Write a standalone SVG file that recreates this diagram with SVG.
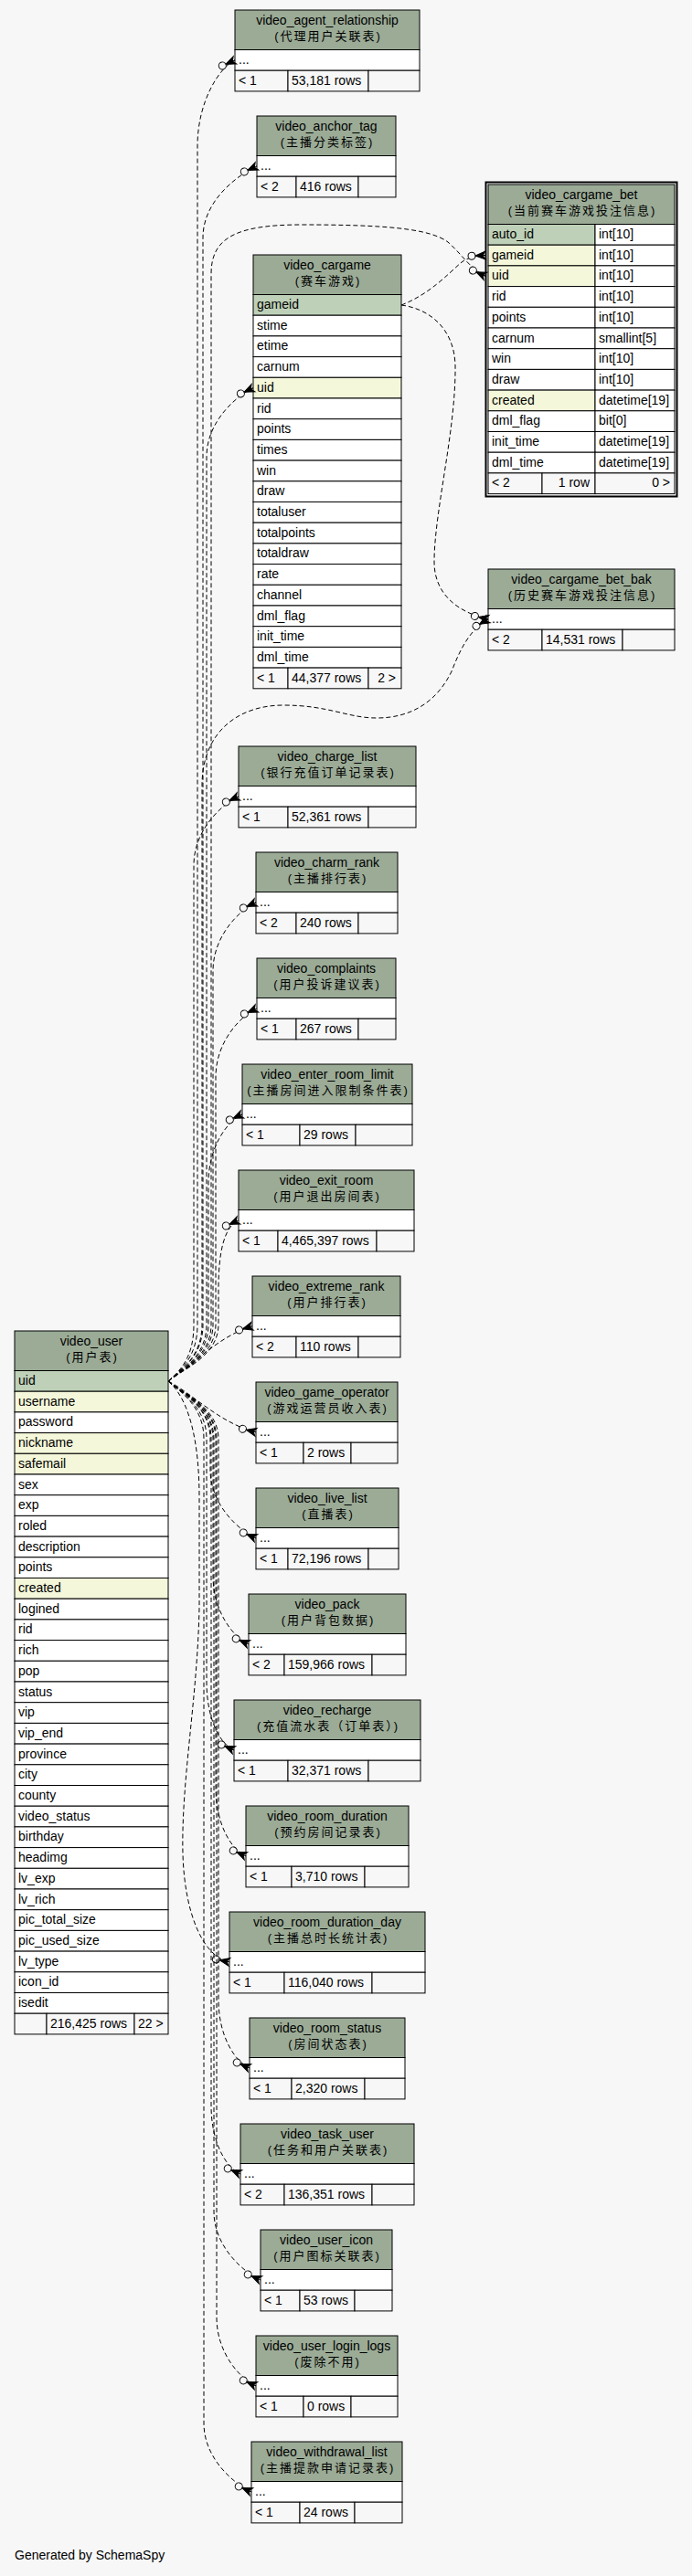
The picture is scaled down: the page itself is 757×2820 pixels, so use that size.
<svg xmlns="http://www.w3.org/2000/svg" width="757" height="2820" viewBox="0 0 757 2820">
<style>
.h{fill:#9bab96;stroke:#000;stroke-width:1}
.pk{fill:#bed1b8;stroke:#000;stroke-width:1}
.ix{fill:#f4f7da;stroke:#000;stroke-width:1}
.r{fill:#fff;stroke:#000;stroke-width:1}
.ft{fill:#f7f7f7;stroke:#000;stroke-width:1}
text{font-family:"Liberation Sans",Arial,sans-serif;font-size:14px;fill:#000}
.c{text-anchor:middle}
.e{text-anchor:end}
.cn{font-family:"Liberation Sans","Noto Sans CJK SC",sans-serif;font-size:13px;letter-spacing:2px;text-anchor:middle}
.edge{fill:none;stroke:#000;stroke-width:1;stroke-dasharray:5,3;marker-end:url(#cf)}
</style>
<defs>
<marker id="cf" markerUnits="userSpaceOnUse" orient="auto" markerWidth="26" markerHeight="14" viewBox="-21 -7 26 14" refX="0" refY="0" overflow="visible">
<path d="M-11,0 L0,-4.5 L-3,0 L0,4.5 Z M-11,0 L0,0" fill="#000" stroke="#000" stroke-width="1"/>
<circle cx="-15" cy="0" r="4" fill="#f7f7f7" stroke="#000" stroke-width="1"/>
</marker>
</defs>
<rect width="757" height="2820" fill="#f7f7f7"/>

<g id="video_agent_relationship" transform="translate(257,11)">
<rect class="h" width="202" height="43.5"/>
<text class="c" x="101" y="16">video_agent_relationship</text>
<text class="cn" x="102" y="33">(代理用户关联表)</text>
<rect class="r" y="43.5" width="202" height="22.7"/>
<text x="4" y="59">...</text>
<rect class="ft" y="66.2" width="58" height="22.7"/><rect class="ft" x="58" y="66.2" width="88" height="22.7"/><rect class="ft" x="146" y="66.2" width="56" height="22.7"/>
<text x="4" y="81.7">&lt; 1</text><text x="62" y="81.7">53,181 rows</text>
</g>

<g id="video_anchor_tag" transform="translate(281,127)">
<rect class="h" width="152" height="43.5"/>
<text class="c" x="76" y="16">video_anchor_tag</text>
<text class="cn" x="77" y="33">(主播分类标签)</text>
<rect class="r" y="43.5" width="152" height="22.7"/>
<text x="4" y="59">...</text>
<rect class="ft" y="66.2" width="43" height="22.7"/><rect class="ft" x="43" y="66.2" width="68" height="22.7"/><rect class="ft" x="111" y="66.2" width="41" height="22.7"/>
<text x="4" y="81.7">&lt; 2</text><text x="47" y="81.7">416 rows</text>
</g>

<g id="video_cargame" transform="translate(277,279)">
<rect class="h" width="162" height="43.5"/>
<text class="c" x="81" y="16">video_cargame</text>
<text class="cn" x="82" y="33">(赛车游戏)</text>
<rect class="pk" y="43.5" width="162" height="22.7"/><text x="4" y="59">gameid</text>
<rect class="r" y="66.2" width="162" height="22.7"/><text x="4" y="81.7">stime</text>
<rect class="r" y="88.9" width="162" height="22.7"/><text x="4" y="104.4">etime</text>
<rect class="r" y="111.6" width="162" height="22.7"/><text x="4" y="127.1">carnum</text>
<rect class="ix" y="134.3" width="162" height="22.7"/><text x="4" y="149.8">uid</text>
<rect class="r" y="157" width="162" height="22.7"/><text x="4" y="172.5">rid</text>
<rect class="r" y="179.7" width="162" height="22.7"/><text x="4" y="195.2">points</text>
<rect class="r" y="202.4" width="162" height="22.7"/><text x="4" y="217.9">times</text>
<rect class="r" y="225.1" width="162" height="22.7"/><text x="4" y="240.6">win</text>
<rect class="r" y="247.8" width="162" height="22.7"/><text x="4" y="263.3">draw</text>
<rect class="r" y="270.5" width="162" height="22.7"/><text x="4" y="286">totaluser</text>
<rect class="r" y="293.2" width="162" height="22.7"/><text x="4" y="308.7">totalpoints</text>
<rect class="r" y="315.9" width="162" height="22.7"/><text x="4" y="331.4">totaldraw</text>
<rect class="r" y="338.6" width="162" height="22.7"/><text x="4" y="354.1">rate</text>
<rect class="r" y="361.3" width="162" height="22.7"/><text x="4" y="376.8">channel</text>
<rect class="r" y="384" width="162" height="22.7"/><text x="4" y="399.5">dml_flag</text>
<rect class="r" y="406.7" width="162" height="22.7"/><text x="4" y="422.2">init_time</text>
<rect class="r" y="429.4" width="162" height="22.7"/><text x="4" y="444.9">dml_time</text>
<rect class="ft" y="452.1" width="38" height="22.7"/><rect class="ft" x="38" y="452.1" width="88" height="22.7"/><rect class="ft" x="126" y="452.1" width="36" height="22.7"/>
<text x="4" y="467.6">&lt; 1</text><text x="42" y="467.6">44,377 rows</text><text class="e" x="156" y="467.6">2 &gt;</text>
</g>

<g id="video_cargame_bet" transform="translate(534,202)">
<rect x="-2.5" y="-2.5" width="209" height="344" fill="none" stroke="#000" stroke-width="2"/>
<rect class="h" width="204" height="43.5"/>
<text class="c" x="102" y="16">video_cargame_bet</text>
<text class="cn" x="103" y="33">(当前赛车游戏投注信息)</text>
<rect class="pk" y="43.5" width="117" height="22.7"/><rect class="r" x="117" y="43.5" width="87" height="22.7"/><text x="4" y="59">auto_id</text><text x="121" y="59">int[10]</text>
<rect class="ix" y="66.2" width="117" height="22.7"/><rect class="r" x="117" y="66.2" width="87" height="22.7"/><text x="4" y="81.7">gameid</text><text x="121" y="81.7">int[10]</text>
<rect class="ix" y="88.9" width="117" height="22.7"/><rect class="r" x="117" y="88.9" width="87" height="22.7"/><text x="4" y="104.4">uid</text><text x="121" y="104.4">int[10]</text>
<rect class="r" y="111.6" width="117" height="22.7"/><rect class="r" x="117" y="111.6" width="87" height="22.7"/><text x="4" y="127.1">rid</text><text x="121" y="127.1">int[10]</text>
<rect class="r" y="134.3" width="117" height="22.7"/><rect class="r" x="117" y="134.3" width="87" height="22.7"/><text x="4" y="149.8">points</text><text x="121" y="149.8">int[10]</text>
<rect class="r" y="157" width="117" height="22.7"/><rect class="r" x="117" y="157" width="87" height="22.7"/><text x="4" y="172.5">carnum</text><text x="121" y="172.5">smallint[5]</text>
<rect class="r" y="179.7" width="117" height="22.7"/><rect class="r" x="117" y="179.7" width="87" height="22.7"/><text x="4" y="195.2">win</text><text x="121" y="195.2">int[10]</text>
<rect class="r" y="202.4" width="117" height="22.7"/><rect class="r" x="117" y="202.4" width="87" height="22.7"/><text x="4" y="217.9">draw</text><text x="121" y="217.9">int[10]</text>
<rect class="ix" y="225.1" width="117" height="22.7"/><rect class="r" x="117" y="225.1" width="87" height="22.7"/><text x="4" y="240.6">created</text><text x="121" y="240.6">datetime[19]</text>
<rect class="r" y="247.8" width="117" height="22.7"/><rect class="r" x="117" y="247.8" width="87" height="22.7"/><text x="4" y="263.3">dml_flag</text><text x="121" y="263.3">bit[0]</text>
<rect class="r" y="270.5" width="117" height="22.7"/><rect class="r" x="117" y="270.5" width="87" height="22.7"/><text x="4" y="286">init_time</text><text x="121" y="286">datetime[19]</text>
<rect class="r" y="293.2" width="117" height="22.7"/><rect class="r" x="117" y="293.2" width="87" height="22.7"/><text x="4" y="308.7">dml_time</text><text x="121" y="308.7">datetime[19]</text>
<rect class="ft" y="315.9" width="59" height="22.7"/><rect class="ft" x="59" y="315.9" width="58" height="22.7"/><rect class="ft" x="117" y="315.9" width="87" height="22.7"/>
<text x="4" y="331.4">&lt; 2</text><text class="e" x="111" y="331.4">1 row</text><text class="e" x="199" y="331.4">0 &gt;</text>
</g>

<g id="video_cargame_bet_bak" transform="translate(534,623)">
<rect class="h" width="204" height="43.5"/>
<text class="c" x="102" y="16">video_cargame_bet_bak</text>
<text class="cn" x="103" y="33">(历史赛车游戏投注信息)</text>
<rect class="r" y="43.5" width="204" height="22.7"/>
<text x="4" y="59">...</text>
<rect class="ft" y="66.2" width="59" height="22.7"/><rect class="ft" x="59" y="66.2" width="88" height="22.7"/><rect class="ft" x="147" y="66.2" width="57" height="22.7"/>
<text x="4" y="81.7">&lt; 2</text><text x="63" y="81.7">14,531 rows</text>
</g>

<g id="video_charge_list" transform="translate(261,817)">
<rect class="h" width="194" height="43.5"/>
<text class="c" x="97" y="16">video_charge_list</text>
<text class="cn" x="98" y="33">(银行充值订单记录表)</text>
<rect class="r" y="43.5" width="194" height="22.7"/>
<text x="4" y="59">...</text>
<rect class="ft" y="66.2" width="54" height="22.7"/><rect class="ft" x="54" y="66.2" width="88" height="22.7"/><rect class="ft" x="142" y="66.2" width="52" height="22.7"/>
<text x="4" y="81.7">&lt; 1</text><text x="58" y="81.7">52,361 rows</text>
</g>

<g id="video_charm_rank" transform="translate(280,933)">
<rect class="h" width="155" height="43.5"/>
<text class="c" x="77.5" y="16">video_charm_rank</text>
<text class="cn" x="78.5" y="33">(主播排行表)</text>
<rect class="r" y="43.5" width="155" height="22.7"/>
<text x="4" y="59">...</text>
<rect class="ft" y="66.2" width="44" height="22.7"/><rect class="ft" x="44" y="66.2" width="68" height="22.7"/><rect class="ft" x="112" y="66.2" width="43" height="22.7"/>
<text x="4" y="81.7">&lt; 2</text><text x="48" y="81.7">240 rows</text>
</g>

<g id="video_complaints" transform="translate(281,1049)">
<rect class="h" width="152" height="43.5"/>
<text class="c" x="76" y="16">video_complaints</text>
<text class="cn" x="77" y="33">(用户投诉建议表)</text>
<rect class="r" y="43.5" width="152" height="22.7"/>
<text x="4" y="59">...</text>
<rect class="ft" y="66.2" width="43" height="22.7"/><rect class="ft" x="43" y="66.2" width="68" height="22.7"/><rect class="ft" x="111" y="66.2" width="41" height="22.7"/>
<text x="4" y="81.7">&lt; 1</text><text x="47" y="81.7">267 rows</text>
</g>

<g id="video_enter_room_limit" transform="translate(265,1165)">
<rect class="h" width="186" height="43.5"/>
<text class="c" x="93" y="16">video_enter_room_limit</text>
<text class="cn" x="94" y="33">(主播房间进入限制条件表)</text>
<rect class="r" y="43.5" width="186" height="22.7"/>
<text x="4" y="59">...</text>
<rect class="ft" y="66.2" width="63" height="22.7"/><rect class="ft" x="63" y="66.2" width="61" height="22.7"/><rect class="ft" x="124" y="66.2" width="62" height="22.7"/>
<text x="4" y="81.7">&lt; 1</text><text x="67" y="81.7">29 rows</text>
</g>

<g id="video_exit_room" transform="translate(261,1281)">
<rect class="h" width="192" height="43.5"/>
<text class="c" x="96" y="16">video_exit_room</text>
<text class="cn" x="97" y="33">(用户退出房间表)</text>
<rect class="r" y="43.5" width="192" height="22.7"/>
<text x="4" y="59">...</text>
<rect class="ft" y="66.2" width="43" height="22.7"/><rect class="ft" x="43" y="66.2" width="108" height="22.7"/><rect class="ft" x="151" y="66.2" width="41" height="22.7"/>
<text x="4" y="81.7">&lt; 1</text><text x="47" y="81.7">4,465,397 rows</text>
</g>

<g id="video_extreme_rank" transform="translate(276,1397)">
<rect class="h" width="162" height="43.5"/>
<text class="c" x="81" y="16">video_extreme_rank</text>
<text class="cn" x="82" y="33">(用户排行表)</text>
<rect class="r" y="43.5" width="162" height="22.7"/>
<text x="4" y="59">...</text>
<rect class="ft" y="66.2" width="48" height="22.7"/><rect class="ft" x="48" y="66.2" width="68" height="22.7"/><rect class="ft" x="116" y="66.2" width="46" height="22.7"/>
<text x="4" y="81.7">&lt; 2</text><text x="52" y="81.7">110 rows</text>
</g>

<g id="video_game_operator" transform="translate(280,1513)">
<rect class="h" width="155" height="43.5"/>
<text class="c" x="77.5" y="16">video_game_operator</text>
<text class="cn" x="78.5" y="33">(游戏运营员收入表)</text>
<rect class="r" y="43.5" width="155" height="22.7"/>
<text x="4" y="59">...</text>
<rect class="ft" y="66.2" width="52" height="22.7"/><rect class="ft" x="52" y="66.2" width="52" height="22.7"/><rect class="ft" x="104" y="66.2" width="51" height="22.7"/>
<text x="4" y="81.7">&lt; 1</text><text x="56" y="81.7">2 rows</text>
</g>

<g id="video_live_list" transform="translate(280,1629)">
<rect class="h" width="156" height="43.5"/>
<text class="c" x="78" y="16">video_live_list</text>
<text class="cn" x="79" y="33">(直播表)</text>
<rect class="r" y="43.5" width="156" height="22.7"/>
<text x="4" y="59">...</text>
<rect class="ft" y="66.2" width="35" height="22.7"/><rect class="ft" x="35" y="66.2" width="88" height="22.7"/><rect class="ft" x="123" y="66.2" width="33" height="22.7"/>
<text x="4" y="81.7">&lt; 1</text><text x="39" y="81.7">72,196 rows</text>
</g>

<g id="video_pack" transform="translate(272,1745)">
<rect class="h" width="172" height="43.5"/>
<text class="c" x="86" y="16">video_pack</text>
<text class="cn" x="87" y="33">(用户背包数据)</text>
<rect class="r" y="43.5" width="172" height="22.7"/>
<text x="4" y="59">...</text>
<rect class="ft" y="66.2" width="39" height="22.7"/><rect class="ft" x="39" y="66.2" width="96" height="22.7"/><rect class="ft" x="135" y="66.2" width="37" height="22.7"/>
<text x="4" y="81.7">&lt; 2</text><text x="43" y="81.7">159,966 rows</text>
</g>

<g id="video_recharge" transform="translate(256,1861)">
<rect class="h" width="204" height="43.5"/>
<text class="c" x="102" y="16">video_recharge</text>
<text class="cn" x="103" y="33">(充值流水表（订单表）)</text>
<rect class="r" y="43.5" width="204" height="22.7"/>
<text x="4" y="59">...</text>
<rect class="ft" y="66.2" width="59" height="22.7"/><rect class="ft" x="59" y="66.2" width="88" height="22.7"/><rect class="ft" x="147" y="66.2" width="57" height="22.7"/>
<text x="4" y="81.7">&lt; 1</text><text x="63" y="81.7">32,371 rows</text>
</g>

<g id="video_room_duration" transform="translate(269,1977)">
<rect class="h" width="178" height="43.5"/>
<text class="c" x="89" y="16">video_room_duration</text>
<text class="cn" x="90" y="33">(预约房间记录表)</text>
<rect class="r" y="43.5" width="178" height="22.7"/>
<text x="4" y="59">...</text>
<rect class="ft" y="66.2" width="50" height="22.7"/><rect class="ft" x="50" y="66.2" width="80" height="22.7"/><rect class="ft" x="130" y="66.2" width="48" height="22.7"/>
<text x="4" y="81.7">&lt; 1</text><text x="54" y="81.7">3,710 rows</text>
</g>

<g id="video_room_duration_day" transform="translate(251,2093)">
<rect class="h" width="214" height="43.5"/>
<text class="c" x="107" y="16">video_room_duration_day</text>
<text class="cn" x="108" y="33">(主播总时长统计表)</text>
<rect class="r" y="43.5" width="214" height="22.7"/>
<text x="4" y="59">...</text>
<rect class="ft" y="66.2" width="60" height="22.7"/><rect class="ft" x="60" y="66.2" width="96" height="22.7"/><rect class="ft" x="156" y="66.2" width="58" height="22.7"/>
<text x="4" y="81.7">&lt; 1</text><text x="64" y="81.7">116,040 rows</text>
</g>

<g id="video_room_status" transform="translate(273,2209)">
<rect class="h" width="170" height="43.5"/>
<text class="c" x="85" y="16">video_room_status</text>
<text class="cn" x="86" y="33">(房间状态表)</text>
<rect class="r" y="43.5" width="170" height="22.7"/>
<text x="4" y="59">...</text>
<rect class="ft" y="66.2" width="46" height="22.7"/><rect class="ft" x="46" y="66.2" width="80" height="22.7"/><rect class="ft" x="126" y="66.2" width="44" height="22.7"/>
<text x="4" y="81.7">&lt; 1</text><text x="50" y="81.7">2,320 rows</text>
</g>

<g id="video_task_user" transform="translate(263,2325)">
<rect class="h" width="190" height="43.5"/>
<text class="c" x="95" y="16">video_task_user</text>
<text class="cn" x="96" y="33">(任务和用户关联表)</text>
<rect class="r" y="43.5" width="190" height="22.7"/>
<text x="4" y="59">...</text>
<rect class="ft" y="66.2" width="48" height="22.7"/><rect class="ft" x="48" y="66.2" width="96" height="22.7"/><rect class="ft" x="144" y="66.2" width="46" height="22.7"/>
<text x="4" y="81.7">&lt; 2</text><text x="52" y="81.7">136,351 rows</text>
</g>

<g id="video_user_icon" transform="translate(285,2441)">
<rect class="h" width="144" height="43.5"/>
<text class="c" x="72" y="16">video_user_icon</text>
<text class="cn" x="73" y="33">(用户图标关联表)</text>
<rect class="r" y="43.5" width="144" height="22.7"/>
<text x="4" y="59">...</text>
<rect class="ft" y="66.2" width="43" height="22.7"/><rect class="ft" x="43" y="66.2" width="60" height="22.7"/><rect class="ft" x="103" y="66.2" width="41" height="22.7"/>
<text x="4" y="81.7">&lt; 1</text><text x="47" y="81.7">53 rows</text>
</g>

<g id="video_user_login_logs" transform="translate(280,2557)">
<rect class="h" width="155" height="43.5"/>
<text class="c" x="77.5" y="16">video_user_login_logs</text>
<text class="cn" x="78.5" y="33">(废除不用)</text>
<rect class="r" y="43.5" width="155" height="22.7"/>
<text x="4" y="59">...</text>
<rect class="ft" y="66.2" width="52" height="22.7"/><rect class="ft" x="52" y="66.2" width="52" height="22.7"/><rect class="ft" x="104" y="66.2" width="51" height="22.7"/>
<text x="4" y="81.7">&lt; 1</text><text x="56" y="81.7">0 rows</text>
</g>

<g id="video_withdrawal_list" transform="translate(275,2673)">
<rect class="h" width="165" height="43.5"/>
<text class="c" x="82.5" y="16">video_withdrawal_list</text>
<text class="cn" x="83.5" y="33">(主播提款申请记录表)</text>
<rect class="r" y="43.5" width="165" height="22.7"/>
<text x="4" y="59">...</text>
<rect class="ft" y="66.2" width="53" height="22.7"/><rect class="ft" x="53" y="66.2" width="60" height="22.7"/><rect class="ft" x="113" y="66.2" width="52" height="22.7"/>
<text x="4" y="81.7">&lt; 1</text><text x="57" y="81.7">24 rows</text>
</g>

<g id="video_user" transform="translate(16,1457)">
<rect class="h" width="168" height="43.5"/>
<text class="c" x="84" y="16">video_user</text>
<text class="cn" x="85" y="33">(用户表)</text>
<rect class="pk" y="43.5" width="168" height="22.7"/><text x="4" y="59">uid</text>
<rect class="ix" y="66.2" width="168" height="22.7"/><text x="4" y="81.7">username</text>
<rect class="r" y="88.9" width="168" height="22.7"/><text x="4" y="104.4">password</text>
<rect class="ix" y="111.6" width="168" height="22.7"/><text x="4" y="127.1">nickname</text>
<rect class="ix" y="134.3" width="168" height="22.7"/><text x="4" y="149.8">safemail</text>
<rect class="r" y="157" width="168" height="22.7"/><text x="4" y="172.5">sex</text>
<rect class="r" y="179.7" width="168" height="22.7"/><text x="4" y="195.2">exp</text>
<rect class="r" y="202.4" width="168" height="22.7"/><text x="4" y="217.9">roled</text>
<rect class="r" y="225.1" width="168" height="22.7"/><text x="4" y="240.6">description</text>
<rect class="r" y="247.8" width="168" height="22.7"/><text x="4" y="263.3">points</text>
<rect class="ix" y="270.5" width="168" height="22.7"/><text x="4" y="286">created</text>
<rect class="r" y="293.2" width="168" height="22.7"/><text x="4" y="308.7">logined</text>
<rect class="r" y="315.9" width="168" height="22.7"/><text x="4" y="331.4">rid</text>
<rect class="r" y="338.6" width="168" height="22.7"/><text x="4" y="354.1">rich</text>
<rect class="r" y="361.3" width="168" height="22.7"/><text x="4" y="376.8">pop</text>
<rect class="r" y="384" width="168" height="22.7"/><text x="4" y="399.5">status</text>
<rect class="r" y="406.7" width="168" height="22.7"/><text x="4" y="422.2">vip</text>
<rect class="r" y="429.4" width="168" height="22.7"/><text x="4" y="444.9">vip_end</text>
<rect class="r" y="452.1" width="168" height="22.7"/><text x="4" y="467.6">province</text>
<rect class="r" y="474.8" width="168" height="22.7"/><text x="4" y="490.3">city</text>
<rect class="r" y="497.5" width="168" height="22.7"/><text x="4" y="513">county</text>
<rect class="r" y="520.2" width="168" height="22.7"/><text x="4" y="535.7">video_status</text>
<rect class="r" y="542.9" width="168" height="22.7"/><text x="4" y="558.4">birthday</text>
<rect class="r" y="565.6" width="168" height="22.7"/><text x="4" y="581.1">headimg</text>
<rect class="r" y="588.3" width="168" height="22.7"/><text x="4" y="603.8">lv_exp</text>
<rect class="r" y="611" width="168" height="22.7"/><text x="4" y="626.5">lv_rich</text>
<rect class="r" y="633.7" width="168" height="22.7"/><text x="4" y="649.2">pic_total_size</text>
<rect class="r" y="656.4" width="168" height="22.7"/><text x="4" y="671.9">pic_used_size</text>
<rect class="r" y="679.1" width="168" height="22.7"/><text x="4" y="694.6">lv_type</text>
<rect class="r" y="701.8" width="168" height="22.7"/><text x="4" y="717.3">icon_id</text>
<rect class="r" y="724.5" width="168" height="22.7"/><text x="4" y="740">isedit</text>
<rect class="ft" y="747.2" width="35" height="22.7"/><rect class="ft" x="35" y="747.2" width="96" height="22.7"/><rect class="ft" x="131" y="747.2" width="37" height="22.7"/>
<text x="39" y="762.7">216,425 rows</text><text x="135" y="762.7">22 &gt;</text>
</g>

<g id="connectors">
<path class="edge" d="M184,1512 C198,1500 216,1485 216,1450 L216,160 C216,110 241,73 257,65.85"/>
<path class="edge" d="M184,1512 C198,1500 222,1485 222,1450 L222,260 C222,217 265,189 281,181.85"/>
<path class="edge" d="M184,1512 C198,1500 226,1485 226,1450 L226,500 C226,460 261,432 277,424.65"/>
<path class="edge" d="M184,1512 C198,1500 231,1485 231,1450 L231,300 C231,262 255,246 330,246 C420,246 470,250 490,265 C505,278 515,295 531,302.25"/>
<path class="edge" d="M439,334 C470,322 490,300 505,287 C512,282 520,280 531,279.55"/>
<path class="edge" d="M439,334 C470,338 497,360 498,400 C499,470 475,560 475,615 C475,650 500,670 534,677.85"/>
<path class="edge" d="M184,1512 C198,1500 221,1485 221,1450 L221,860 C221,800 262,772 310,772 C360,772 380,786 412,786 C450,786 478,768 494,735 C503,712 513,690 534,677.85"/>
<path class="edge" d="M184,1512 C198,1500 212,1485 212,1450 L212,947 C212,907 245,879 261,871.85"/>
<path class="edge" d="M184,1512 C198,1500 233,1485 233,1450 L233,1063 C233,1023 264,995 280,987.85"/>
<path class="edge" d="M184,1512 C198,1500 236,1485 236,1450 L236,1179 C236,1139 265,1111 281,1103.85"/>
<path class="edge" d="M184,1512 C198,1500 228,1485 228,1450 L228,1295 C228,1255 249,1227 265,1219.85"/>
<path class="edge" d="M184,1512 C198,1500 239,1485 239,1450 L239,1411 C239,1371 245,1343 261,1335.85"/>
<path class="edge" d="M184,1512 C210,1495 240,1462 276,1451.85"/>
<path class="edge" d="M184,1512 C210,1525 240,1558 280,1567.85"/>
<path class="edge" d="M184,1512 C198,1524 230,1540 230,1575 L230,1609 C230,1649 264,1677 280,1683.85"/>
<path class="edge" d="M184,1512 C198,1524 233,1540 233,1575 L233,1725 C233,1765 256,1793 272,1799.85"/>
<path class="edge" d="M184,1512 C198,1524 226,1540 226,1575 L226,1841 C226,1881 240,1909 256,1915.85"/>
<path class="edge" d="M184,1512 C198,1524 236,1540 236,1575 L236,1957 C236,1997 253,2025 269,2031.85"/>
<path class="edge" d="M184,1512 C200,1525 218,1560 218,1640 L218,1760 C216,1860 198,1950 200,2030 C202,2095 222,2142 251,2147.85"/>
<path class="edge" d="M184,1512 C198,1524 239,1540 239,1575 L239,2189 C239,2229 257,2257 273,2263.85"/>
<path class="edge" d="M184,1512 C198,1524 231,1540 231,1575 L231,2305 C231,2345 247,2373 263,2379.85"/>
<path class="edge" d="M184,1512 C198,1524 234,1540 234,1575 L234,2421 C234,2461 269,2489 285,2495.85"/>
<path class="edge" d="M184,1512 C198,1524 237,1540 237,1575 L237,2537 C237,2577 264,2605 280,2611.85"/>
<path class="edge" d="M184,1512 C198,1524 223,1540 223,1575 L223,2653 C223,2693 259,2721 275,2727.85"/>
</g>

<text x="16" y="2802">Generated by SchemaSpy</text>
</svg>
